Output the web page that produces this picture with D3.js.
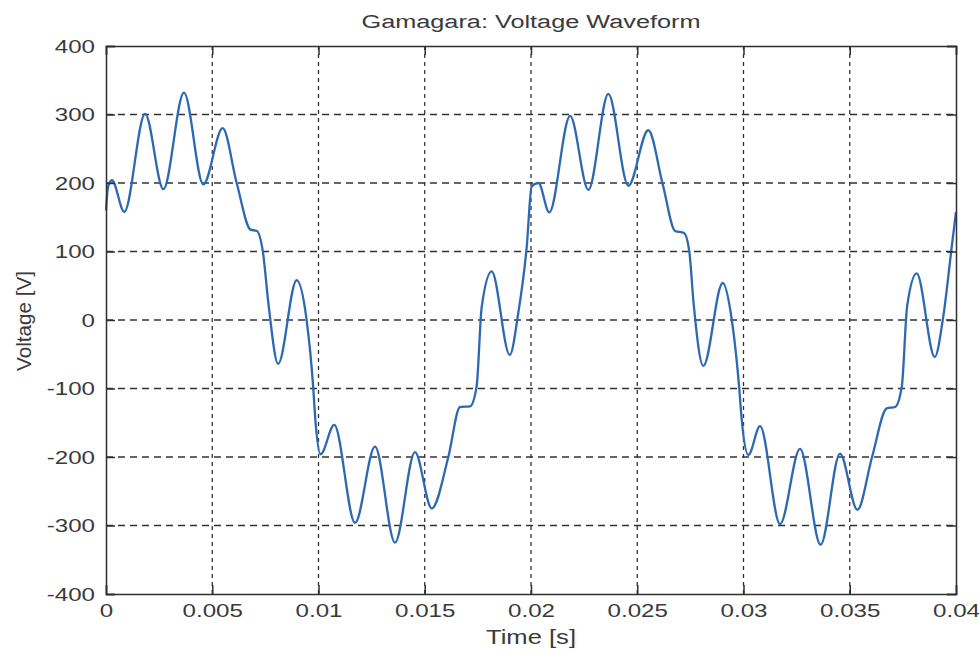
<!DOCTYPE html>
<html>
<head>
<meta charset="utf-8">
<script src="https://cdn.jsdelivr.net/npm/d3@7"></script>
<style>
  body { margin: 0; background: #fff; }
  svg text { font-family: "Liberation Sans", Arial, sans-serif; fill: #3a3a3a; }
</style>
</head>
<body>
<svg id="chart" width="979" height="650"></svg>
<script>
// values (time in s, voltage in V)
const times = [
  0.00000, 0.00010, 0.00028, 0.00086, 0.00184, 0.00270, 0.00367, 0.00458, 0.00549, 0.00615,
  0.00680, 0.00710, 0.00739, 0.00764, 0.00810, 0.00897, 0.00944, 0.00975, 0.00984, 0.01010,
  0.01074, 0.01172, 0.01266, 0.01360, 0.01454, 0.01533, 0.01611, 0.01666, 0.01713, 0.01744,
  0.01768, 0.01815, 0.01900, 0.01940, 0.01980, 0.02003, 0.02035, 0.02086, 0.02184, 0.02270,
  0.02364, 0.02458, 0.02552, 0.02620, 0.02678, 0.02720, 0.02745, 0.02765, 0.02811, 0.02902,
  0.02945, 0.02980, 0.02990, 0.03023, 0.03078, 0.03172, 0.03266, 0.03363, 0.03454, 0.03536,
  0.03605, 0.03674, 0.03713, 0.03745, 0.03770, 0.03815, 0.03900, 0.03940, 0.03980, 0.04000
];
const voltage = [
  160, 195, 204, 158, 301, 191, 332, 198, 280, 200,
  132, 130, 98, 25, -64, 58, 0, -98, -141, -196,
  -153, -296, -185, -325, -193, -275, -200, -127, -126, -97,
  19, 71, -51, 10, 107, 195, 200, 157, 298, 190,
  330, 196, 277, 198, 130, 127, 100, 25, -67, 54,
  0, -100, -140, -197, -155, -298, -188, -328, -195, -277,
  -200, -129, -127, -97, 20, 68, -54, 5, 107, 158
];
const xTicks = [0, 0.005, 0.01, 0.015, 0.02, 0.025, 0.03, 0.035, 0.04];
const yTicks = [-400, -300, -200, -100, 0, 100, 200, 300, 400];

const title = "Gamagara: Voltage Waveform";
const xLabel = "Time [s]";
const yLabel = "Voltage [V]";

const margin = { top: 46, right: 23, bottom: 56, left: 106 };
const svg = d3.select("#chart");
const width = +svg.attr("width") - margin.left - margin.right;
const height = +svg.attr("height") - margin.top - margin.bottom;
const g = svg.append("g").attr("transform", `translate(${margin.left},${margin.top})`);

const x = d3.scaleLinear().domain([0, 0.04]).range([0, width]);
const y = d3.scaleLinear().domain([-400, 400]).range([height, 0]);
const axisColor = "#2f2f2f";

// grid
g.append("g").selectAll("line").data(yTicks.slice(1, -1)).join("line")
  .attr("x1", 0).attr("x2", width)
  .attr("y1", d => y(d)).attr("y2", d => y(d))
  .attr("stroke", "#333").attr("stroke-width", 1.3).attr("stroke-dasharray", "7,5");
g.append("g").selectAll("line").data(xTicks.slice(1, -1)).join("line")
  .attr("x1", d => x(d)).attr("x2", d => x(d))
  .attr("y1", 0).attr("y2", height)
  .attr("stroke", "#333").attr("stroke-width", 1.3).attr("stroke-dasharray", "4,4");

// waveform
const pts = times.map((t, i) => [t, voltage[i]]);
g.append("path").datum(pts)
  .attr("fill", "none")
  .attr("stroke", "#2d69b2")
  .attr("stroke-width", 2.3)
  .attr("d", d3.line().x(d => x(d[0])).y(d => y(d[1])).curve(d3.curveMonotoneX));

// axes, MATLAB style: ticks inside, box all round
const fmt = d => String(+d.toFixed(3)); // plain hyphen minus like the original
const stretch = sel => sel.selectAll("text").each(function () {
  const w = this.getComputedTextLength();
  this.setAttribute("textLength", w * 1.27);
  this.setAttribute("lengthAdjust", "spacingAndGlyphs");
});

const xAxis = g.append("g").attr("transform", `translate(0,${height})`)
  .call(d3.axisBottom(x).tickValues(xTicks).tickFormat(fmt).tickSize(-9).tickPadding(10));
const yAxis = g.append("g")
  .call(d3.axisLeft(y).tickValues(yTicks).tickFormat(fmt).tickSize(-9).tickPadding(11));
g.append("g").call(d3.axisTop(x).tickValues(xTicks).tickSize(-9).tickFormat(""));
g.append("g").attr("transform", `translate(${width},0)`)
  .call(d3.axisRight(y).tickValues(yTicks).tickSize(-9).tickFormat(""));

g.selectAll(".domain, .tick line").attr("stroke", axisColor).attr("stroke-width", 1.5);
g.selectAll(".tick text").attr("font-size", 19).attr("fill", "#3a3a3a")
  .attr("font-family", "'Liberation Sans', Arial, sans-serif");
stretch(xAxis);
stretch(yAxis);

// labels
svg.append("text").attr("x", margin.left + width / 2).attr("y", 28)
  .attr("text-anchor", "middle").attr("font-size", 18)
  .attr("textLength", 339).attr("lengthAdjust", "spacingAndGlyphs")
  .text(title);
svg.append("text").attr("x", margin.left + width / 2).attr("y", 644)
  .attr("text-anchor", "middle").attr("font-size", 20)
  .attr("textLength", 90).attr("lengthAdjust", "spacingAndGlyphs")
  .text(xLabel);
svg.append("text").attr("transform", "translate(31,321) rotate(-90)")
  .attr("text-anchor", "middle").attr("font-size", 20)
  .attr("textLength", 100).attr("lengthAdjust", "spacingAndGlyphs")
  .text(yLabel);
</script>
</body>
</html>
